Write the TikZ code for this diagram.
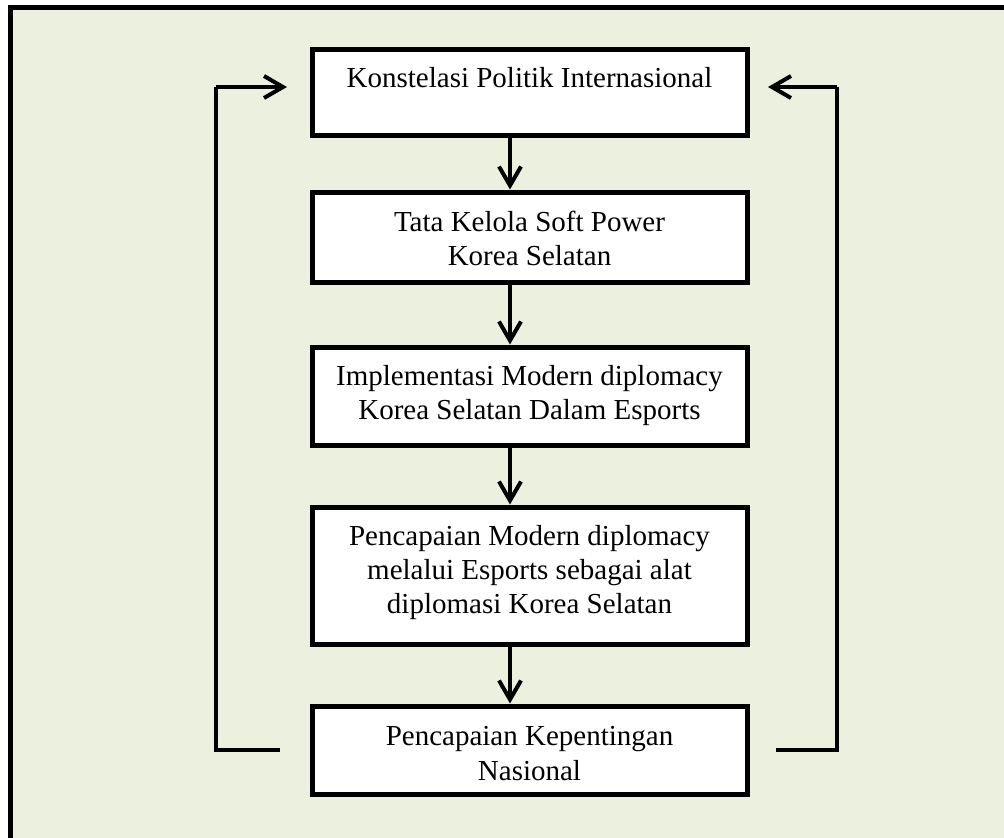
\documentclass[tikz,border=0pt]{standalone}
\usepackage{fontspec}
\setmainfont{Liberation Serif}
\usetikzlibrary{arrows.meta}
\definecolor{bgg}{HTML}{EBF1DE}
\tikzset{
  box/.style={draw=black, fill=white, line width=5pt, inner sep=0pt, minimum width=435pt},
  txt/.style={anchor=base, inner sep=0pt, font=\fontsize{29}{34}\selectfont},
  arr/.style={line width=4pt, -{Straight Barb[length=19pt,width=22pt]}},
  fb/.style={line width=4pt}
}
\begin{document}
\begin{tikzpicture}[x=1pt,y=-1pt]
\useasboundingbox (0,0) rectangle (1004,838);
\fill[bgg] (10.5,7.5) rectangle (1004,838);
\draw[line width=5pt] (8,7.5) -- (1004,7.5);
\draw[line width=5pt] (10.5,5) -- (10.5,838);

\node[box, minimum height=86pt] (b1) at (529.5,92) {};
\node[box, minimum height=90pt] (b2) at (529.5,237) {};
\node[box, minimum height=98pt] (b3) at (529.5,396) {};
\node[box, minimum height=137pt] (b4) at (529.5,575.5) {};
\node[box, minimum height=88pt] (b5) at (529.5,750) {};

\node[txt] (t1) at (529.5,87) {Konstelasi Politik Internasional};
\node[txt] (t2a) at (529.5,231) {Tata Kelola Soft Power};
\node[txt] (t2b) at (529.5,265) {Korea Selatan};
\node[txt] (t3a) at (529.5,385) {Implementasi Modern diplomacy};
\node[txt] (t3b) at (529.5,419) {Korea Selatan Dalam Esports};
\node[txt] (t4a) at (529.5,545) {Pencapaian Modern diplomacy};
\node[txt] (t4b) at (529.5,579) {melalui Esports sebagai alat};
\node[txt] (t4c) at (529.5,613) {diplomasi Korea Selatan};
\node[txt] (t5a) at (529.5,745) {Pencapaian Kepentingan};
\node[txt] (t5b) at (529.5,780) {Nasional};

\coordinate (ax) at (510,0);
\draw[arr] (b1.south -| ax) -- (b2.north -| ax);
\draw[arr] (b2.south -| ax) -- (b3.north -| ax);
\draw[arr] (b3.south -| ax) -- (b4.north -| ax);
\draw[arr] (b4.south -| ax) -- (b5.north -| ax);

\coordinate (Lstart) at (280,750);
\coordinate (Lcorner) at (216,87);
\coordinate (Lend) at (287,87);
\draw[fb] (Lstart) -| (Lcorner);
\draw[arr] (Lcorner) -- (Lend);
\coordinate (Rstart) at (776,750);
\coordinate (Rcorner) at (837,87);
\coordinate (Rend) at (768,87);
\draw[fb] (Rstart) -| (Rcorner);
\draw[arr] (Rcorner) -- (Rend);
\end{tikzpicture}
\end{document}
